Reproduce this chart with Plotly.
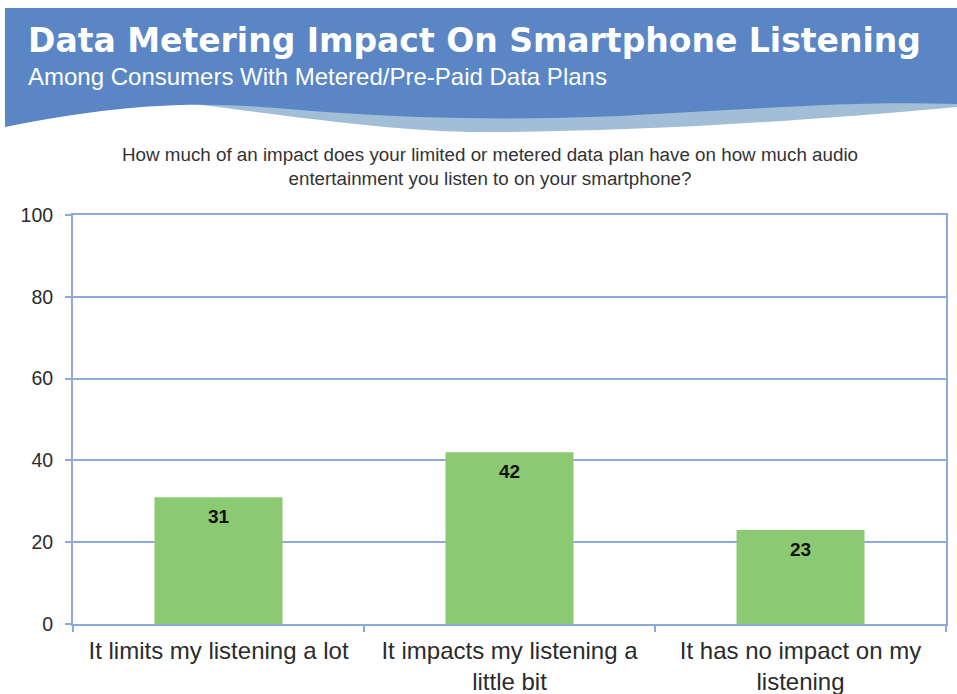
import plotly.graph_objects as go

CATEGORIES = [
    "It limits my listening a lot",
    "It impacts my listening a<br>little bit",
    "It has no impact on my<br>listening",
]
VALUES = [31, 42, 23]
Y_TICKS = [0, 20, 40, 60, 80, 100]

TITLE = "Data Metering Impact On Smartphone Listening"
SUBTITLE = "Among Consumers With Metered/Pre-Paid Data Plans"
QUESTION = (
    "How much of an impact does your limited or metered data plan have on how much audio<br>"
    "entertainment you listen to on your smartphone?"
)

_FONT = "Arial, Liberation Sans, sans-serif"
_FONT_HEAD = "DejaVu Sans, Arial, sans-serif"
_C_BANNER = "#5A86C5"
_C_BAND = "#A2BED6"
_C_GRID = "#8EAADB"
_C_BAR = "#8CC973"
_C_TEXT = "#2B2B2B"

# plot area in pixels (957x694 page)
W, H = 957, 694
L, R, T, B = 73, 946, 215, 624


def _p(x, y):
    """pixel -> paper coordinates"""
    return f"{(x - L) / (R - L):.4f},{(B - y) / (B - T):.4f}"


def _path(cmds):
    out = []
    for c in cmds:
        if isinstance(c, str):
            out.append(c)
        else:
            out.append(_p(*c))
    return " ".join(out)


band_path = _path([
    "M", (150, 98), "C", (300, 118), (400, 132), (480, 132),
    "C", (620, 132), (780, 123), (957, 107),
    "L", (957, 95), "L", (150, 95), "Z",
])
banner_path = _path([
    "M", (5, 8), "L", (957, 8), "L", (957, 104),
    "C", (850, 101), (760, 109), (620, 116),
    "C", (500, 121), (400, 118), (300, 110),
    "C", (210, 102), (140, 100), (5, 127), "Z",
])

fig = go.Figure(
    go.Bar(
        x=CATEGORIES,
        y=VALUES,
        marker={"color": _C_BAR, "line": {"width": 0}},
        hovertemplate="%{x}: %{y}<extra></extra>",
    )
)

for cat, val in zip(CATEGORIES, VALUES):
    fig.add_annotation(
        x=cat, y=val, text=f"<b>{val}</b>", showarrow=False,
        yanchor="top", yshift=-7,
        font={"family": _FONT, "size": 19, "color": "#111111"},
    )

fig.update_layout(
    width=W,
    height=H,
    margin={"l": L, "r": W - R, "t": T, "b": H - B},
    paper_bgcolor="white",
    plot_bgcolor="white",
    showlegend=False,
    bargap=0.56,
    font={"family": _FONT, "color": _C_TEXT},
    shapes=[
        {"type": "path", "xref": "paper", "yref": "paper", "path": band_path,
         "fillcolor": _C_BAND, "line": {"width": 0}, "layer": "below"},
        {"type": "path", "xref": "paper", "yref": "paper", "path": banner_path,
         "fillcolor": _C_BANNER, "line": {"width": 0}, "layer": "below"},
    ],
)

fig.add_annotation(
    xref="paper", yref="paper", x=(26 - L) / (R - L), y=(B - 40) / (B - T),
    xanchor="left", yanchor="middle", showarrow=False,
    text=f"<b>{TITLE}</b>",
    font={"family": _FONT_HEAD, "size": 33, "color": "white"},
)
fig.add_annotation(
    xref="paper", yref="paper", x=(26 - L) / (R - L), y=(B - 76) / (B - T),
    xanchor="left", yanchor="middle", showarrow=False,
    text=SUBTITLE,
    font={"family": _FONT, "size": 24, "color": "white"},
)
fig.add_annotation(
    xref="paper", yref="paper", x=(490 - L) / (R - L), y=(B - 166) / (B - T),
    xanchor="center", yanchor="middle", showarrow=False,
    text=QUESTION, align="center",
    font={"family": _FONT, "size": 18.8, "color": "#333333"},
)

fig.update_yaxes(
    range=[0, 100],
    tickvals=Y_TICKS,
    showgrid=True, gridcolor=_C_GRID, gridwidth=2,
    showline=True, linecolor=_C_GRID, linewidth=2, mirror=True,
    ticks="outside", ticklen=6, tickcolor=_C_GRID, tickwidth=2,
    ticklabelstandoff=8,
    zeroline=False, automargin=False,
    tickfont={"family": _FONT, "size": 19.5, "color": _C_TEXT},
)
fig.update_xaxes(
    showline=True, linecolor=_C_GRID, linewidth=2, mirror=True,
    ticks="outside", ticklen=6, tickcolor=_C_GRID, tickwidth=2,
    tickson="boundaries", ticklabelstandoff=4, automargin=False,
    tickfont={"family": _FONT, "size": 24, "color": _C_TEXT},
)

fig.write_html(
    "out.html",
    config={"displayModeBar": False},
    post_script="document.body.style.margin='0';",
)
